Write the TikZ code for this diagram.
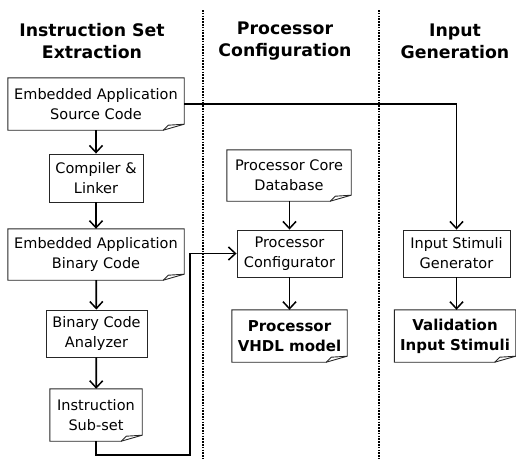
\documentclass[tikz,border=0pt]{standalone}
\usepackage{fontspec}
\setmainfont{DejaVu Sans}
\usetikzlibrary{arrows.meta}
\tikzset{
  box/.style={draw=black!85, line width=0.9pt, inner sep=0pt, align=center, font=\fontsize{14.5}{20}\selectfont},
  docbox/.style={inner sep=0pt, align=center, font=\fontsize{14.5}{20}\selectfont},
  boldtxt/.style={font=\fontsize{15}{20}\selectfont\bfseries},
  heading/.style={inner sep=0pt, align=center, font=\fontsize{17.3}{22}\selectfont\bfseries},
  conn/.style={line width=1.7pt, -{Straight Barb[length=7pt,width=13pt,line width=1.5pt]}},
  lane/.style={line width=1.6pt, dash pattern=on 1.5pt off 1.3pt},
  doclineA/.style={draw=black!85, line width=0.9pt, line join=miter}
}
\newcommand{\docframe}[1]{%
  \draw[doclineA] (#1.north west) -- (#1.north east) -- ([yshift=6pt]#1.south east) -- ([xshift=-21pt]#1.south east) -- (#1.south west) -- cycle;
  \draw[doclineA] ([xshift=-21pt]#1.south east) -- ([xshift=-16pt,yshift=5pt]#1.south east) -- ([yshift=6pt]#1.south east);}
\begin{document}
\begin{tikzpicture}[x=1pt,y=-1pt]
\useasboundingbox (0,0) rectangle (516,459);
% lanes
\coordinate (l1t) at (203,10); \coordinate (l1b) at (203,459);
\coordinate (l2t) at (379,10); \coordinate (l2b) at (379,459);
\draw[lane] (l1t) -- (l1b);
\draw[lane] (l2t) -- (l2b);
% headings
\node[heading] (h1) at (92,41) {Instruction Set\\Extraction};
\node[heading] (h2) at (285,41) {Processor\\Configuration};
\node[heading] (h3) at (455,41) {Input\\Generation};
% boxes
\node[docbox, minimum width=176pt, minimum height=52pt] (src) at (96,104) {Embedded Application\\Source Code};
\node[box, minimum width=94pt, minimum height=48pt] (comp) at (96,178) {Compiler \&\\Linker};
\node[docbox, minimum width=176pt, minimum height=51pt] (bin) at (96,254.5) {Embedded Application\\Binary Code};
\node[box, minimum width=101pt, minimum height=47pt] (ana) at (96.5,333.5) {Binary Code\\Analyzer};
\node[docbox, minimum width=92pt, minimum height=52pt] (sub) at (96,415) {Instruction\\Sub-set};
\node[docbox, minimum width=124pt, minimum height=51pt] (db) at (289,175.5) {Processor Core\\Database};
\node[box, minimum width=105pt, minimum height=47pt] (conf) at (289.5,253.5) {Processor\\Configurator};
\node[docbox, boldtxt, minimum width=115pt, minimum height=52pt] (vhdl) at (289.5,336) {Processor\\VHDL model};
\node[box, minimum width=107pt, minimum height=47pt] (gen) at (456.5,253.5) {Input Stimuli\\Generator};
\node[docbox, boldtxt, minimum width=121pt, minimum height=52pt] (val) at (455,336) {Validation\\Input Stimuli};
\docframe{src}\docframe{bin}\docframe{sub}\docframe{db}\docframe{vhdl}\docframe{val}
% connectors
\draw[conn] (src) -- (comp);
\draw[conn] (comp) -- (bin);
\draw[conn] (bin) -- (ana);
\draw[conn] (ana) -- (sub);
\draw[conn] (db.south -| conf.north) -- (conf);
\draw[conn] (conf) -- (vhdl.north -| conf.south);
\draw[conn] (gen) -- (val.north -| gen.south);
\coordinate (c1) at (96,455);
\coordinate (c2) at (190,455);
\coordinate (c3) at (190,253.5);
\draw[conn] (sub.south) -- (c1) -- (c2) -- (c3) -- (conf.west);
\draw[conn] (src.east) -| (gen.north);
\end{tikzpicture}
\end{document}
